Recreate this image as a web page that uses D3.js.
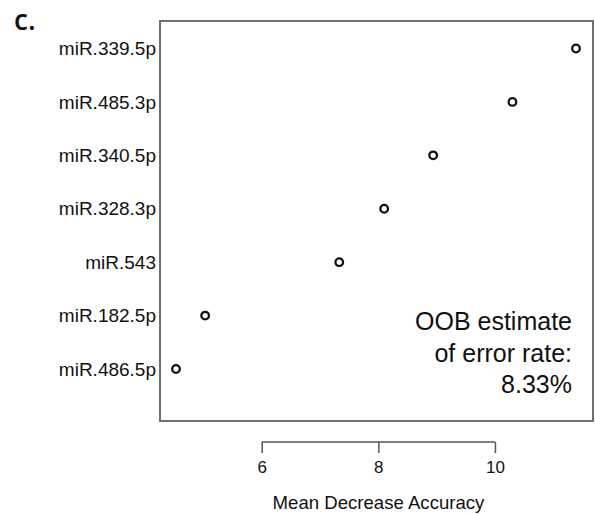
<!DOCTYPE html>
<html>
<head>
<meta charset="utf-8">
<script src="https://cdn.jsdelivr.net/npm/d3@7"></script>
<style>
  html, body { margin: 0; padding: 0; background: #fff; }
  svg { display: block; }
</style>
</head>
<body>
<svg id="chart" width="595" height="514"></svg>
<script>
// ---- data (top to bottom) ----
const categories = ["miR.339.5p", "miR.485.3p", "miR.340.5p", "miR.328.3p", "miR.543", "miR.182.5p", "miR.486.5p"];
const meanDecreaseAccuracy = [11.39, 10.30, 8.94, 8.10, 7.33, 5.03, 4.53];
const xTicks = [6, 8, 10];
const xTitle = "Mean Decrease Accuracy";
const oobLines = ["OOB estimate", "of error rate:", "8.33%"];
const panelLabel = "c.";

const svg = d3.select("#chart");
const font = "'Liberation Sans', Arial, Helvetica, sans-serif";

const box = { left: 160, right: 593, top: 21, bottom: 421 };

// R-style 4% range extension
const ext = d3.extent(meanDecreaseAccuracy);
const pad = (ext[1] - ext[0]) * 0.04;
const x = d3.scaleLinear().domain([ext[0] - pad, ext[1] + pad]).range([box.left, box.right - 1]);
const y = d3.scalePoint().domain(categories).range([48.5, 369]);

// panel label
svg.append("text")
  .attr("x", 14).attr("y", 30)
  .attr("font-family", "'Open Sans', 'Noto Sans', sans-serif")
  .attr("font-size", 28)
  .attr("font-weight", 600)
  .attr("fill", "#111")
  .text(panelLabel);

// frame
svg.append("rect")
  .attr("x", box.left).attr("y", box.top)
  .attr("width", box.right - box.left).attr("height", box.bottom - box.top)
  .attr("fill", "none").attr("stroke", "#707070").attr("stroke-width", 2);

// category labels
svg.append("g").selectAll("text")
  .data(categories).join("text")
  .attr("x", 156).attr("y", d => y(d))
  .attr("dy", "0.35em")
  .attr("text-anchor", "end")
  .attr("font-family", font).attr("font-size", 19)
  .attr("fill", "#111")
  .text(d => d);

// points
svg.append("g").selectAll("circle")
  .data(categories).join("circle")
  .attr("cx", (d, i) => x(meanDecreaseAccuracy[i]))
  .attr("cy", d => y(d))
  .attr("r", 3.8)
  .attr("fill", "none").attr("stroke", "#111").attr("stroke-width", 2.3);

// x axis (detached, below frame)
const axis = d3.axisBottom(x).tickValues(xTicks).tickSize(11).tickPadding(8).tickFormat(d3.format("d"));
const gx = svg.append("g").attr("transform", "translate(0,442)").call(axis);
gx.select(".domain").attr("d", `M${x(xTicks[0])},0H${x(xTicks[xTicks.length - 1])}`)
  .attr("stroke", "#555").attr("stroke-width", 1.5);
gx.selectAll(".tick line").attr("stroke", "#555").attr("stroke-width", 1.5);
gx.selectAll(".tick text")
  .attr("font-family", font).attr("font-size", 17).attr("fill", "#111");

// x title
svg.append("text")
  .attr("x", (box.left + box.right) / 2 + 2).attr("y", 509)
  .attr("text-anchor", "middle")
  .attr("font-family", font).attr("font-size", 18.6)
  .attr("fill", "#111")
  .text(xTitle);

// OOB annotation
svg.append("g").selectAll("text")
  .data(oobLines).join("text")
  .attr("x", 572).attr("y", (d, i) => 330 + i * 31.7)
  .attr("text-anchor", "end")
  .attr("font-family", font).attr("font-size", 25)
  .attr("fill", "#111")
  .text(d => d);
</script>
</body>
</html>
